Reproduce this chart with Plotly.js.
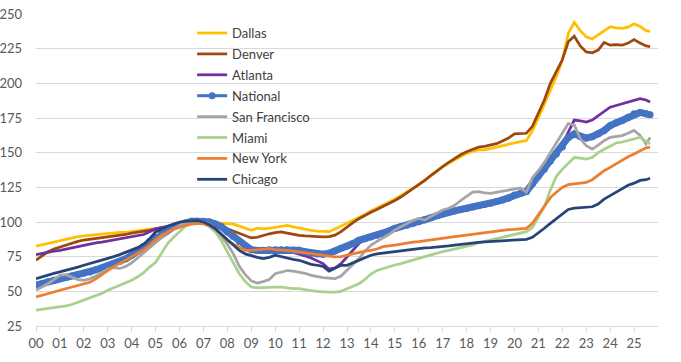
<!DOCTYPE html>
<html>
<head>
<meta charset="utf-8">
<script src="https://cdn.plot.ly/plotly-3.0.1.min.js"></script>
<style>html,body{margin:0;padding:0;background:#fff;}#chart{width:681px;height:362px;}</style>
</head>
<body>
<div id="chart"></div>
<script>
// Quarterly readings, Jan 2000 .. mid 2025 (last value = latest month)
const yearLabels = ["00","01","02","03","04","05","06","07","08","09","10","11","12","13","14","15","16","17","18","19","20","21","22","23","24","25"];
const seriesNames = ["Dallas","Denver","Atlanta","National","San Francisco","Miami","New York","Chicago"];

const dallas = [
82.5,83.5,85,86, 86.5,87.5,88.5,89.5, 90,90.5,91,91.5, 91.5,92,92.5,92.5, 93,93.5,94,94.5,
95,95.5,96.5,97, 98,99.5,100.5,101, 101,100.5,99.5,99, 99,98.5,97,95.5, 94,95.5,95,95.5,
96,97,97.5,96.5, 95.5,95,94,93.5, 93,93,95,97, 99,101,103.5,105.5, 108,110,112,114,
116.5,119,121.5,124, 127,130,133,136.5, 140,142.5,145,147.5, 149.5,151,152,152, 153,154,155,156.5,
157.5,158,158.7,166, 175,185,195,205, 216.7,236,244,238, 233.6,232,235,238, 240.8,240,239.6,240.5,
243,241,238,237.5];
const denver = [
72.5,75.5,78.5,80.5, 82,83.5,85,86, 87,87.5,88,88.5, 89.5,90,90.5,91, 92,92.5,93.5,94,
95,96,96.5,97, 97.5,98.5,99.5,100, 100,99.5,98.5,97, 95.2,93.5,91.5,90, 88.5,89,90.5,91.5,
92.3,92.8,92,91, 90.4,90,89.7,89.3, 89.2,89.5,90.5,93, 96.4,99.5,102.4,105, 107,109,111,113,
115.5,118,121,124, 126.7,130,133.5,137, 140,143,146,148.5, 150.7,152.5,154,154.5, 155.5,156.5,158.5,160.5,
163.5,163.5,164,169, 178,188,200,208, 217,230,234,227, 222.7,222,224,229.5, 227.5,228,227.5,229,
231.6,229,227,226.5];
const atlanta = [
76.5,77.5,78.5,79, 79.5,80.5,81.5,82.5, 83,84,85,85.5, 86.3,87,87.5,88.5, 89.2,90,91,93,
95,96,97,98, 99,100,100.5,101, 101,100.5,99,97.5, 95,91,87,83.5, 80.5,79.5,79,79.5,
79.5,79.5,79,78, 77,75.5,74,72, 70,66,67,70, 75,80,84.5,87.5, 89,90.5,91.5,93.5,
96,97,98,99.5, 101,102,103.5,105, 106.5,107.5,108.5,109.5, 110.5,111.5,112.5,113.5, 114.5,115.5,116.5,117.5,
119,120,122,127, 133,138.5,145,150, 156,165,173.5,173, 172,173.5,176.5,179.5, 182.8,184,185.3,186.5,
187.7,189,188,186.5];
const national = [
54.5,55.5,57,58, 59,60,61,62, 63,64,65.5,67, 68.5,70,71.5,73.5, 76,79,82.5,86,
89,92,94.5,96.5, 98,99.5,100.5,100.5, 100.5,100,98.5,96.5, 93,89.5,86,82.5, 80,79.5,79.6,80,
80,80,80,79.8, 79.6,78.5,77.5,77, 76.7,77.5,79,81, 82.5,84.5,86.8,88, 89.2,90.4,91.5,93.5,
95.4,96.5,97.7,99, 100.2,101.5,103,104.5, 106,107,108,109, 109.8,110.8,111.7,112.6, 113.5,114.7,115.9,117.1,
119.5,120.5,122,127.5, 133,138,144,149, 154,161,163.5,161.5, 160.5,161.5,163.5,166, 169.5,171.5,173,175.5,
178,179,178,177.3];
const sanFrancisco = [
51,53,55.5,58.5, 61.5,62,60,58.5, 58,59,61,63.5, 66,67,66.5,68, 70.5,74,78,81.5,
85,89,92.5,95, 97.5,99,100,100.5, 100,98.5,95,90, 84,77,68,62, 57.5,56,57,58.5,
62.7,64,65,64.5, 63.9,63,61.5,60.5, 59.9,59.5,59.1,61, 65,69,73.6,79, 83.2,86,88.2,91,
94.2,96.5,99,101, 102.6,101.4,104,106.5, 108.7,109.9,112,115.5, 118.3,121.5,121.9,121, 120.7,121.5,122,123,
124,124.5,121.5,132, 137,143,150,157, 163.5,171,170,160, 155,152.6,155.5,158.6, 161,161.5,162.3,164,
166,162.5,156.3,161];
const miami = [
36.4,37,37.5,38, 38.8,39.5,40.5,42, 43.6,45,46.5,48.5, 50.8,52.5,54.5,56, 58,60.5,63.5,67.5,
71,77.5,84.4,89, 92.8,97,99,100, 98.8,96.5,92.8,86.5, 78.4,70.5,62.7,57, 53.1,52.5,52.5,52.5,
53,53.1,52.5,52, 51.9,51,50.5,50, 49.5,49.5,49.5,50, 51.9,53.5,55.5,58.5, 62.5,65,66.5,67.8,
69,70,71.5,72.5, 73.8,75,76.5,77.5, 78.6,79.5,80.5,81.5, 82.2,83.5,85,86, 87,88,89,90,
90.6,91.5,93,96, 103,111,123,133, 138,142.5,146.5,146, 145.4,146.6,150,152.5, 155,157,157.7,159,
160,161,158.5,156.3];
const newYork = [
46,47,48.5,49.5, 50.8,52,53,54.5, 55.6,56.5,59,62, 65.2,68,70,72.5, 74.8,77,80,83.2,
87.3,90.5,93,95, 96.4,97.5,98.5,98.8, 98.8,97.5,95,91, 86.8,84,81.5,79.6, 79.6,80,80.5,80.8,
80,80,79.5,79, 78.4,77.5,77,76.5, 76,75.5,74.8,75, 76,77,78.4,79, 79.6,80.5,82.2,83,
83.4,84,85,85.5, 85.8,86.5,87,87.5, 88.2,89,89.5,90, 90.6,91.2,92,92.5, 93,93.5,94,94.5,
94.7,95,95.4,99, 105,111,117.6,121.5, 124.9,127,127.5,127.8, 128.5,130.5,134,137, 139.4,142,144.5,147,
149,151.5,153.5,154];
const chicago = [
59.2,60.5,62,63, 64,65,66,67.5, 68.8,70,71,72.5, 73.6,75,76.5,78, 79.6,81.5,84,88,
92.8,95,97,98.5, 100,100.5,101,101, 100,98,95,91, 86.8,83,79.5,77, 75.5,74.5,73.6,74.5,
76,75,73.6,73, 72.4,71,69.5,68.8, 68,64.5,66.5,68.8, 68.8,70.5,72.4,74, 76,77,77.4,78,
78.6,79.2,79.8,80.4, 81,81.3,81.6,81.9, 82.2,82.8,83.4,84, 84.6,85,85.3,85.6, 85.8,86.1,86.4,86.7,
87,87,87.5,89, 92,95.5,99,102.5, 105.5,109,110,110.3, 110.5,111,113,116.5, 119,121.5,124,126.5,
128,130,130.5,131.5];

// time positions (years since Jan 2000): quarterly, then latest month
const periods = [];
for (let i = 0; i < 103; i++) periods.push(i / 4);
periods.push(25.67);

const colors = ["#FFC000","#9E480E","#7030A0","#4472C4","#A5A5A5","#A9D18E","#ED7D31","#264478"];
const values = [dallas, denver, atlanta, national, sanFrancisco, miami, newYork, chicago];

const traces = [];
values.forEach((v, i) => {
  const isNat = seriesNames[i] === "National";
  const t = {
    type: "scatter",
    x: periods,
    y: v,
    name: seriesNames[i],
    legendgroup: "g" + i,
    mode: isNat ? "lines+markers" : "lines",
    line: {color: colors[i], width: isNat ? 3 : 2.75}
  };
  if (isNat) t.marker = {color: colors[i], size: 7};
  traces.push(t);
  if (isNat) {
    // thick band drawn over the marker line (same data), as in the reference
    traces.push({
      type: "scatter", x: periods, y: v, name: seriesNames[i],
      legendgroup: "g" + i, showlegend: false, mode: "lines",
      line: {color: colors[i], width: 7}
    });
  }
});

const layout = {
  width: 681, height: 362,
  margin: {l: 36, r: 23, t: 14, b: 36, pad: 0},
  paper_bgcolor: "#ffffff", plot_bgcolor: "#ffffff",
  font: {family: "Lato, 'Liberation Sans', sans-serif", size: 13, color: "#595959"},
  showlegend: true,
  legend: {
    x: 0.251, y: 0.987, xanchor: "left", yanchor: "top",
    bgcolor: "rgba(0,0,0,0)", borderwidth: 0,
    font: {size: 13, color: "#404040"},
    tracegroupgap: 1
  },
  xaxis: {
    range: [0, 26],
    tickmode: "array",
    tickvals: yearLabels.map((_, i) => i),
    ticktext: yearLabels,
    ticks: "outside", ticklen: 5, tickcolor: "#d9d9d9", tickwidth: 1,
    showline: true, linecolor: "#d9d9d9", linewidth: 1,
    showgrid: false, zeroline: false,
    tickfont: {size: 13, color: "#595959"}
  },
  yaxis: {
    range: [25, 250], tick0: 25, dtick: 25,
    showgrid: true, gridcolor: "#d9d9d9", gridwidth: 1,
    zeroline: false, showline: false, ticks: "",
    ticklabelstandoff: 13,
    tickfont: {size: 13, color: "#595959"}
  }
};

Plotly.newPlot("chart", traces, layout, {staticPlot: true, displayModeBar: false});
</script>
</body>
</html>
